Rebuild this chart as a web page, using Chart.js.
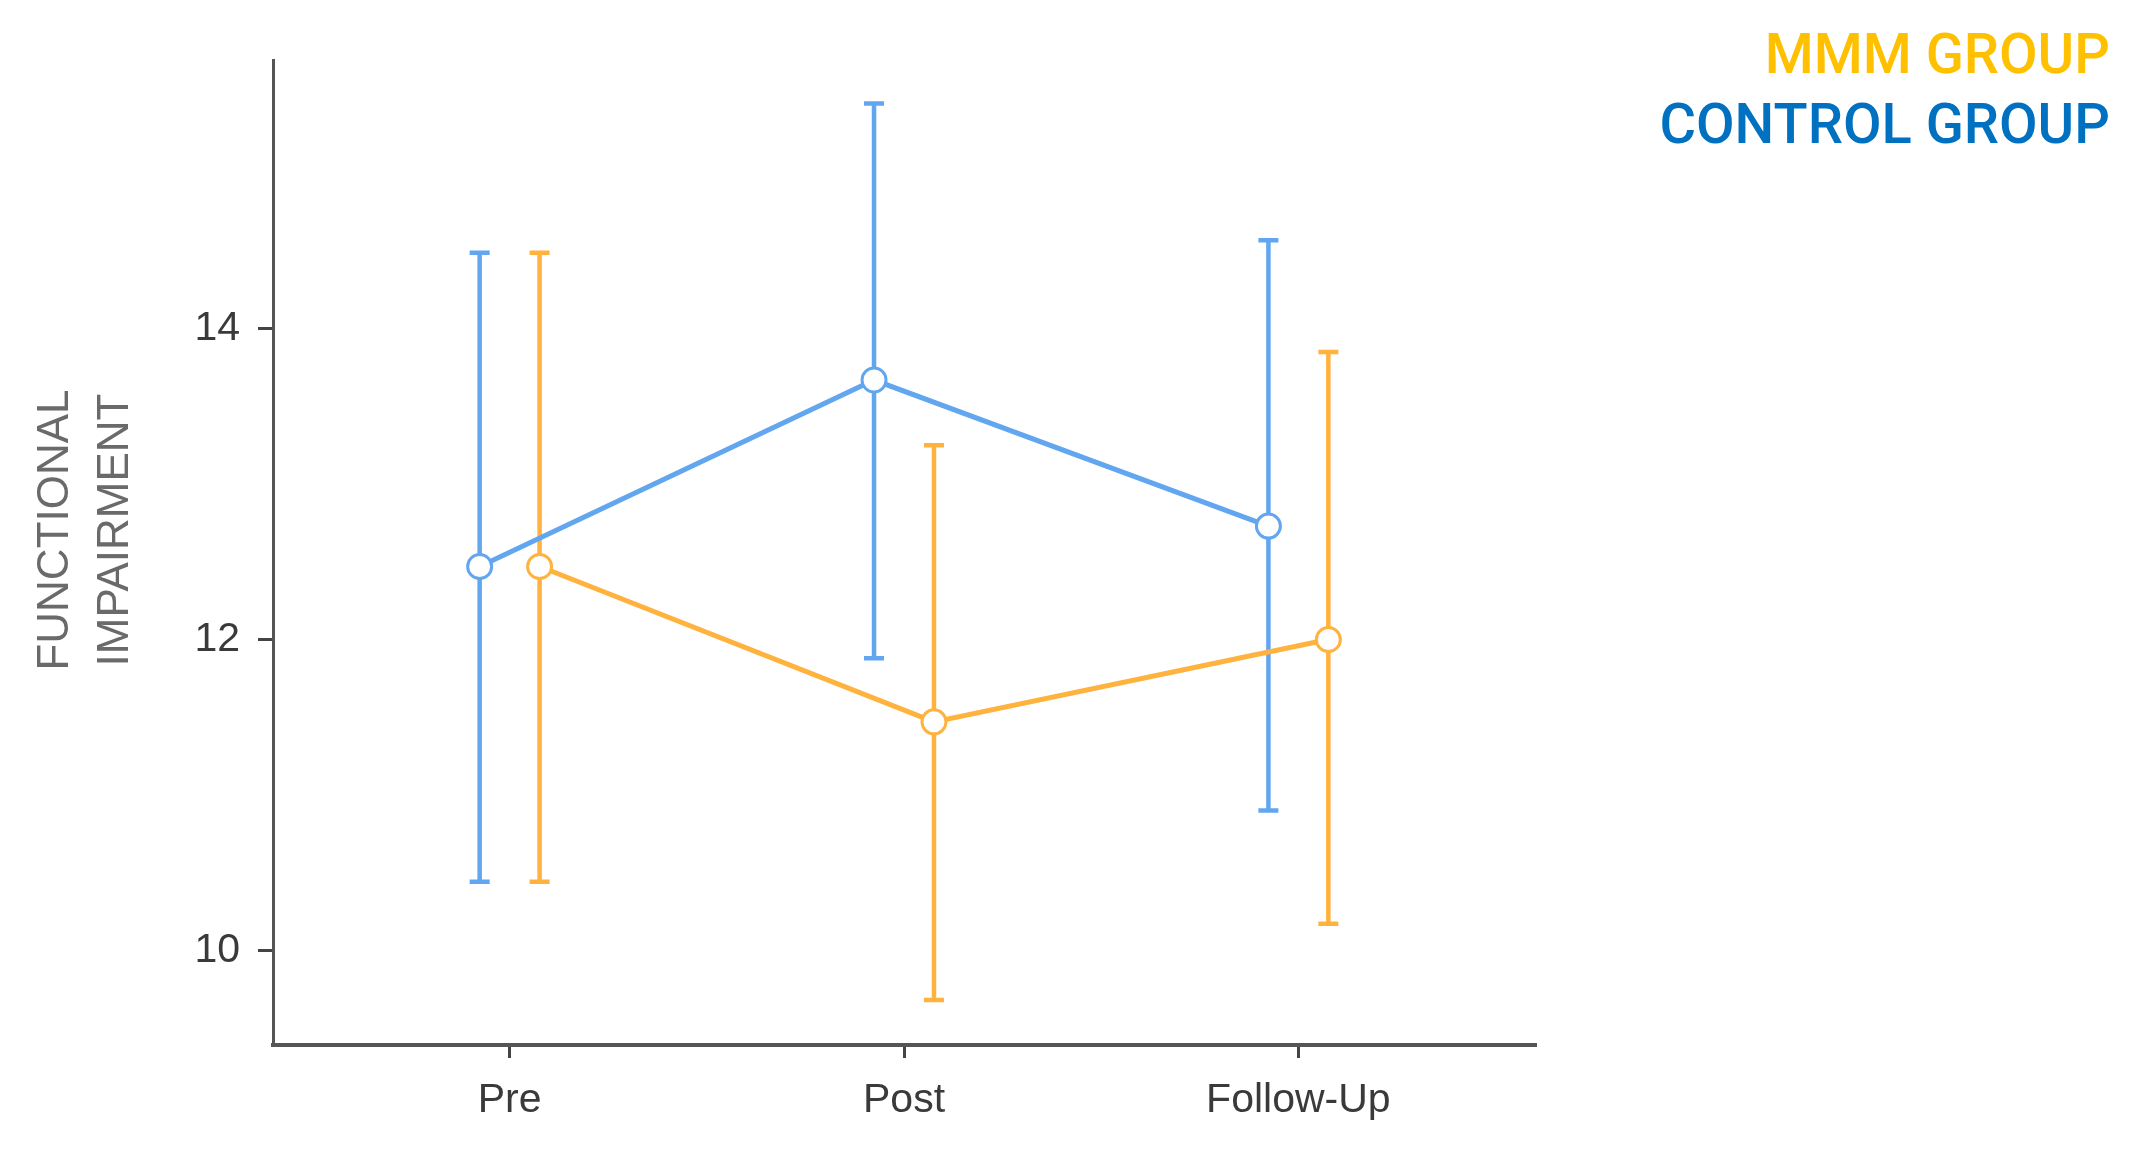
<!DOCTYPE html>
<html>
<head>
<meta charset="utf-8">
<script src="https://cdn.jsdelivr.net/npm/chart.js@4.4.0/dist/chart.umd.min.js"></script>
<style>
  html, body { margin: 0; padding: 0; background: #fff; }
  #wrap { width: 2149px; height: 1161px; }
</style>
</head>
<body>
<div id="wrap"><canvas id="chart" width="2149" height="1161"></canvas></div>
<script>
// data
const categories = ["Pre", "Post", "Follow-Up"];
const controlMean = [12.47, 13.67, 12.73];
const controlLow = [10.44, 11.88, 10.90];
const controlHigh = [14.49, 15.45, 14.57];
const mmmMean = [12.47, 11.47, 12.00];
const mmmLow = [10.44, 9.68, 10.17];
const mmmHigh = [14.49, 13.25, 13.85];
const yTicks = [10, 12, 14];

const controlColor = "#62a6f0";
const mmmColor = "#ffb23e";
const dodge = 0.076; // sideways shift of the two groups

function points(means, shift) {
    return means.map((v, i) => ({ x: i + shift, y: v }));
}

// whiskers drawn under the lines
const errorBars = {
    id: "errorBars",
    beforeDatasetsDraw(chart) {
        const ctx = chart.ctx;
        const xs = chart.scales.x, ys = chart.scales.y;
        const groups = [
            { lo: controlLow, hi: controlHigh, shift: -dodge, color: controlColor },
            { lo: mmmLow, hi: mmmHigh, shift: dodge, color: mmmColor }
        ];
        ctx.save();
        ctx.lineWidth = 4.5;
        groups.forEach(g => {
            ctx.strokeStyle = g.color;
            g.lo.forEach((lo, i) => {
                const x = xs.getPixelForValue(i + g.shift);
                const y1 = ys.getPixelForValue(lo);
                const y2 = ys.getPixelForValue(g.hi[i]);
                ctx.beginPath();
                ctx.moveTo(x, y1); ctx.lineTo(x, y2);
                ctx.moveTo(x - 10, y1); ctx.lineTo(x + 10, y1);
                ctx.moveTo(x - 10, y2); ctx.lineTo(x + 10, y2);
                ctx.stroke();
            });
        });
        ctx.restore();
    }
};

// axis title and group legend
const extras = {
    id: "extras",
    afterDraw(chart) {
        const ctx = chart.ctx;
        ctx.save();
        ctx.fillStyle = "#6a6a6a";
        ctx.font = "44px 'Liberation Sans', Arial, sans-serif";
        ctx.textAlign = "center";
        ctx.textBaseline = "middle";
        ctx.translate(56, 530);
        ctx.rotate(-Math.PI / 2);
        ctx.fillText("FUNCTIONAL", 0, 0);
        ctx.fillText("IMPAIRMENT", 0, 60);
        ctx.restore();

        ctx.save();
        ctx.font = "500 56px Roboto, 'Noto Sans', sans-serif";
        ctx.textAlign = "right";
        ctx.textBaseline = "alphabetic";
        ctx.fillStyle = "#ffc000";
        ctx.fillText("MMM GROUP", 2110, 73);
        ctx.fillStyle = "#0070c0";
        ctx.fillText("CONTROL GROUP", 2110, 143);
        ctx.restore();
    }
};

new Chart(document.getElementById("chart"), {
    type: "line",
    data: {
        datasets: [
            {
                label: "CONTROL GROUP",
                data: points(controlMean, -dodge),
                borderColor: controlColor,
                borderWidth: 5,
                pointRadius: 12,
                pointBorderWidth: 3,
                pointBackgroundColor: "#fff",
                pointBorderColor: controlColor
            },
            {
                label: "MMM GROUP",
                data: points(mmmMean, dodge),
                borderColor: mmmColor,
                borderWidth: 5,
                pointRadius: 12,
                pointBorderWidth: 3,
                pointBackgroundColor: "#fff",
                pointBorderColor: mmmColor
            }
        ]
    },
    options: {
        responsive: false,
        animation: false,
        layout: { padding: { top: 60, right: 614, left: 0, bottom: 0 } },
        plugins: { legend: { display: false }, tooltip: { enabled: false } },
        scales: {
            x: {
                type: "linear",
                min: -0.6,
                max: 2.6,
                afterFit: s => { s.height = 116; },
                afterBuildTicks: s => { s.ticks = categories.map((c, i) => ({ value: i })); },
                ticks: {
                    callback: v => categories[v],
                    color: "#3a3a3a",
                    font: { size: 41, family: "'Liberation Sans', Arial, sans-serif" },
                    padding: 18,
                    maxRotation: 0
                },
                grid: { drawOnChartArea: false, drawTicks: true, tickLength: 13, color: "#444", lineWidth: 3 },
                border: { display: true, color: "#555", width: 4 }
            },
            y: {
                min: 9.39,
                max: 15.73,
                afterFit: s => { s.width = 273; },
                afterBuildTicks: s => { s.ticks = yTicks.map(v => ({ value: v })); },
                ticks: {
                    color: "#3a3a3a",
                    font: { size: 41, family: "'Liberation Sans', Arial, sans-serif" },
                    padding: 18
                },
                grid: { drawOnChartArea: false, drawTicks: true, tickLength: 15, color: "#444", lineWidth: 3 },
                border: { display: true, color: "#555", width: 3 }
            }
        }
    },
    plugins: [errorBars, extras]
});
</script>
</body>
</html>
